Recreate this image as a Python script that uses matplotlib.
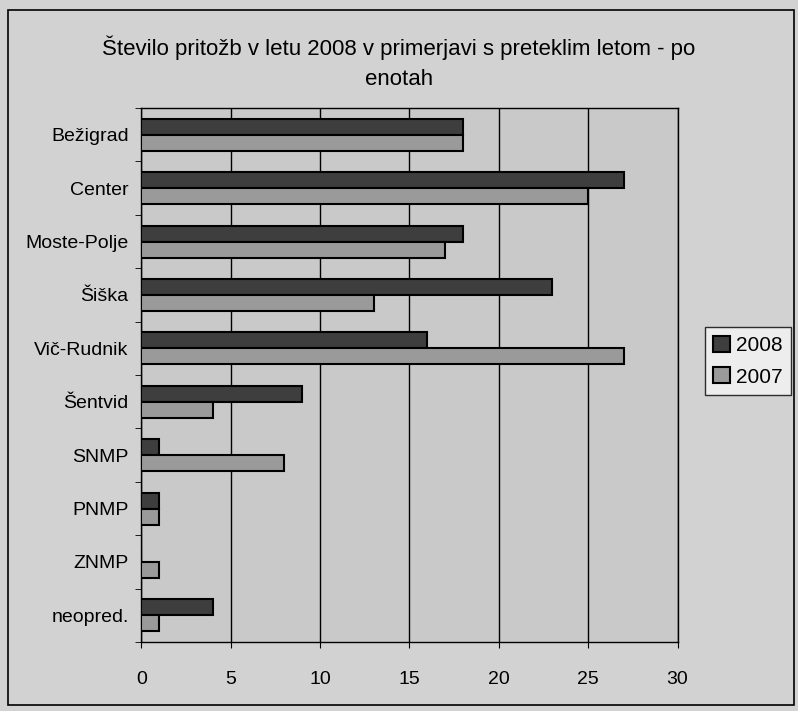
import matplotlib
matplotlib.use("Agg")
import matplotlib.pyplot as plt
from matplotlib.patches import Rectangle
import numpy as np

categories = ["Bežigrad", "Center", "Moste-Polje", "Šiška", "Vič-Rudnik",
              "Šentvid", "SNMP", "PNMP", "ZNMP", "neopred."]
values_2008 = [18, 27, 18, 23, 16, 9, 1, 1, 0, 4]
values_2007 = [18, 25, 17, 13, 27, 4, 8, 1, 1, 1]
xticks = [0, 5, 10, 15, 20, 25, 30]
title = "Število pritožb v letu 2008 v primerjavi s preteklim letom - po\nenotah"

plt.rcParams['font.family'] = ['Liberation Sans Narrow', 'Liberation Sans', 'DejaVu Sans']

fig = plt.figure(figsize=(7.98, 7.11), dpi=100)
fig.patch.set_facecolor('#d2d2d2')
fig.patches.append(Rectangle((0.010, 0.008), 0.985, 0.978, transform=fig.transFigure,
                             fill=False, edgecolor='black', linewidth=1.2))

ax = fig.add_axes([0.177, 0.097, 0.672, 0.751])
ax.set_facecolor('#c9c9c9')

y = np.arange(len(categories))
h = 0.3
ax.barh(y - h / 2, values_2008, height=h, color='#3e3e3e', edgecolor='black',
        linewidth=1.5, label='2008', zorder=3)
ax.barh(y + h / 2, values_2007, height=h, color='#9a9a9a', edgecolor='black',
        linewidth=1.5, label='2007', zorder=3)

ax.set_xlim(0, 30)
ax.set_ylim(len(categories) - 0.5, -0.5)
ax.set_xticks(xticks)
ax.set_xticklabels([str(t) for t in xticks], fontsize=14)
ax.set_yticks(y)
ax.set_yticklabels(categories, fontsize=14)
ax.set_yticks(np.arange(len(categories) + 1) - 0.5, minor=True)
ax.tick_params(axis='y', which='major', length=0, pad=9)
ax.tick_params(axis='y', which='minor', length=4, color='black')
ax.tick_params(axis='x', length=4, color='black', pad=17)
ax.xaxis.grid(True, color='black', linewidth=1.0, zorder=1)
for s in ax.spines.values():
    s.set_color('black')
    s.set_linewidth(1.0)

fig.text(0.5, 0.912, title, ha='center', va='center', fontsize=16, linespacing=1.55)

leg = fig.legend(loc='center', bbox_to_anchor=(0.937, 0.492), fontsize=15,
                 frameon=True, fancybox=False, edgecolor='black',
                 handlelength=0.8, handleheight=0.8, handletextpad=0.3,
                 borderpad=0.4, labelspacing=0.6)
leg.get_frame().set_facecolor('#f4f4f4')
leg.get_frame().set_linewidth(1.0)

fig.savefig("out.png", dpi=100, facecolor=fig.get_facecolor())
